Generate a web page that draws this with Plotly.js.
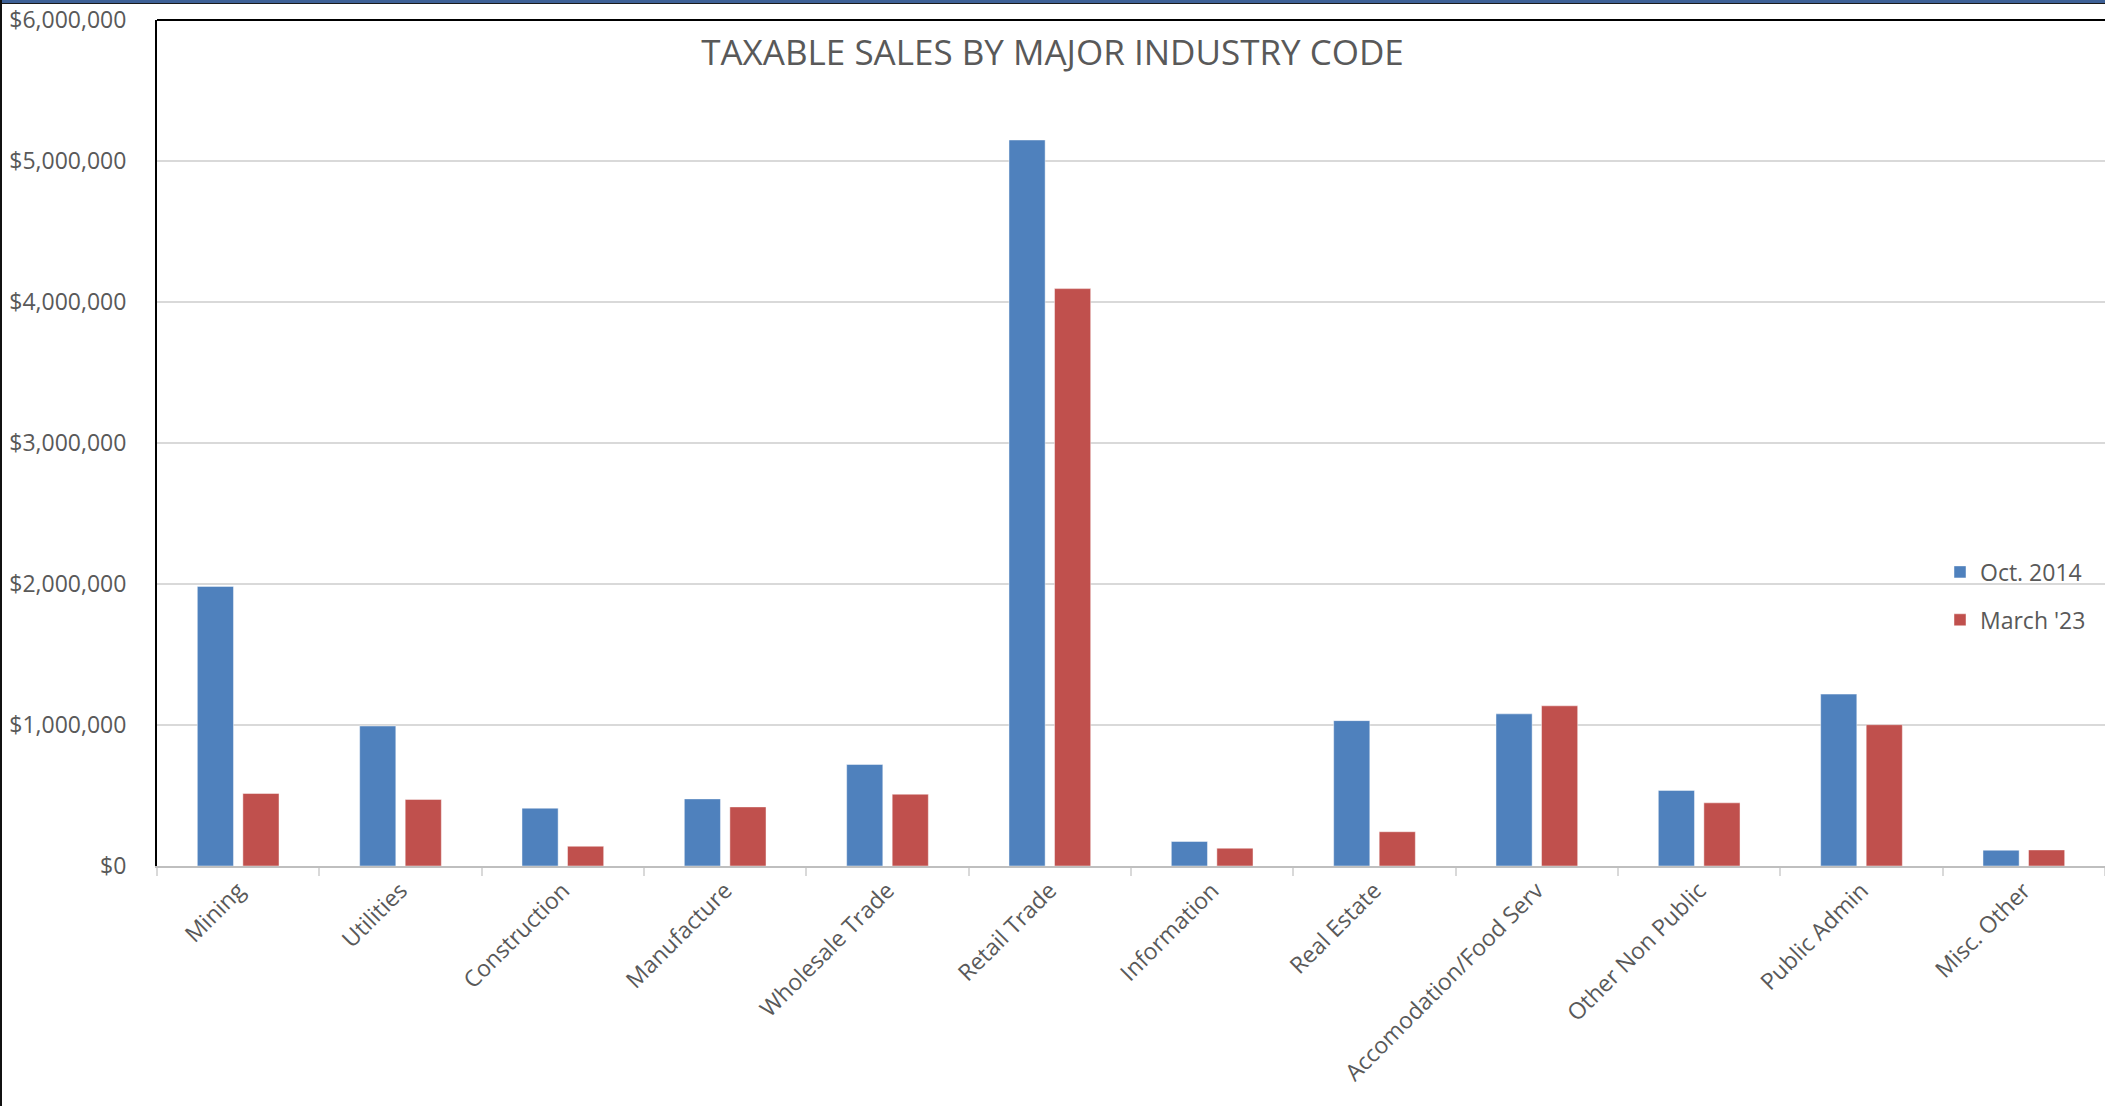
<!DOCTYPE html>
<html>
<head>
<meta charset="utf-8">
<script src="https://cdn.plot.ly/plotly-3.0.1.min.js"></script>
<style>
  html, body { margin: 0; padding: 0; background: #ffffff; }
  #chart { width: 2105px; height: 1106px; position: absolute; left: 0; top: 0; }
  .deco { position: absolute; pointer-events: none; }
</style>
</head>
<body>
<div id="chart"></div>
<div class="deco" style="left:0;top:0;width:2105px;height:3px;background:#3d6096;"></div>
<div class="deco" style="left:0;top:3px;width:2105px;height:1px;background:#1a1a1a;"></div>
<div class="deco" style="left:0;top:0;width:2px;height:1106px;background:#111111;"></div>
<script>
const categories = ["Mining", "Utilities", "Construction", "Manufacture", "Wholesale Trade",
  "Retail Trade", "Information", "Real Estate", "Accomodation/Food Serv",
  "Other Non Public", "Public Admin", "Misc. Other"];
const oct2014 = [1983000, 993000, 410000, 476000, 720000, 5149000, 174000, 1031000, 1079000, 536000, 1219000, 112000];
const march23 = [514000, 472000, 140000, 419000, 509000, 4095000, 126000, 243000, 1136000, 448000, 1002000, 114000];
const seriesNames = ["Oct. 2014", "March '23"];
const yTicks = [0, 1000000, 2000000, 3000000, 4000000, 5000000, 6000000];
const chartTitle = "TAXABLE SALES BY MAJOR INDUSTRY CODE";

const textColor = "#595959";
const fontFam = "'Open Sans', 'Noto Sans', sans-serif";

const traces = [
  {
    type: "bar", name: seriesNames[0], x: categories, y: oct2014,
    marker: { color: "#4f81bd", line: { color: "rgba(255,255,255,0.45)", width: 1 } },
    legendgroup: "a", hoverinfo: "skip"
  },
  {
    type: "bar", name: seriesNames[1], x: categories, y: march23,
    marker: { color: "#c0504d", line: { color: "rgba(255,255,255,0.45)", width: 1 } },
    legendgroup: "b", hoverinfo: "skip"
  }
];

const layout = {
  width: 2105, height: 1106,
  margin: { l: 157, r: 0, t: 20, b: 240, pad: 0 },
  paper_bgcolor: "#ffffff", plot_bgcolor: "#ffffff",
  font: { family: fontFam, color: textColor, size: 23 },
  title: {
    text: chartTitle,
    font: { family: fontFam, size: 35, color: textColor },
    x: 0.5, xref: "container", xanchor: "center",
    y: 1 - 53 / 1106, yref: "container", yanchor: "middle"
  },
  barmode: "group",
  bargap: 0.439,
  bargroupgap: 0.206,
  xaxis: {
    type: "category",
    tickangle: -45,
    ticks: "outside", tickson: "boundaries", ticklen: 8, tickwidth: 2, tickcolor: "#d9d9d9",
    showline: true, linecolor: "#bfbfbf", linewidth: 2,
    showgrid: false, zeroline: false,
    tickfont: { family: fontFam, size: 23, color: textColor },
    automargin: false
  },
  yaxis: {
    range: [0, 6000000],
    tickvals: yTicks,
    tickformat: "$,.0f",
    showgrid: true, gridcolor: "#d9d9d9", gridwidth: 2,
    zeroline: false,
    showline: true, linecolor: "#000000", linewidth: 2,
    ticks: "", ticklabelstandoff: 24,
    tickfont: { family: fontFam, size: 23, color: textColor },
    automargin: false
  },
  legend: {
    x: (1940 - 157) / 1948, xref: "paper", xanchor: "left",
    y: 0.373, yref: "paper", yanchor: "top",
    orientation: "v",
    traceorder: "grouped",
    tracegroupgap: 15,
    font: { family: fontFam, size: 23, color: textColor },
    bgcolor: "rgba(0,0,0,0)"
  },
  shapes: [
    { type: "line", xref: "paper", yref: "paper", x0: 0, x1: 1, y0: 1, y1: 1,
      line: { color: "#000000", width: 2 } }
  ],
  hovermode: false
};

Plotly.newPlot("chart", traces, layout, { displayModeBar: false, staticPlot: true });
</script>
</body>
</html>
